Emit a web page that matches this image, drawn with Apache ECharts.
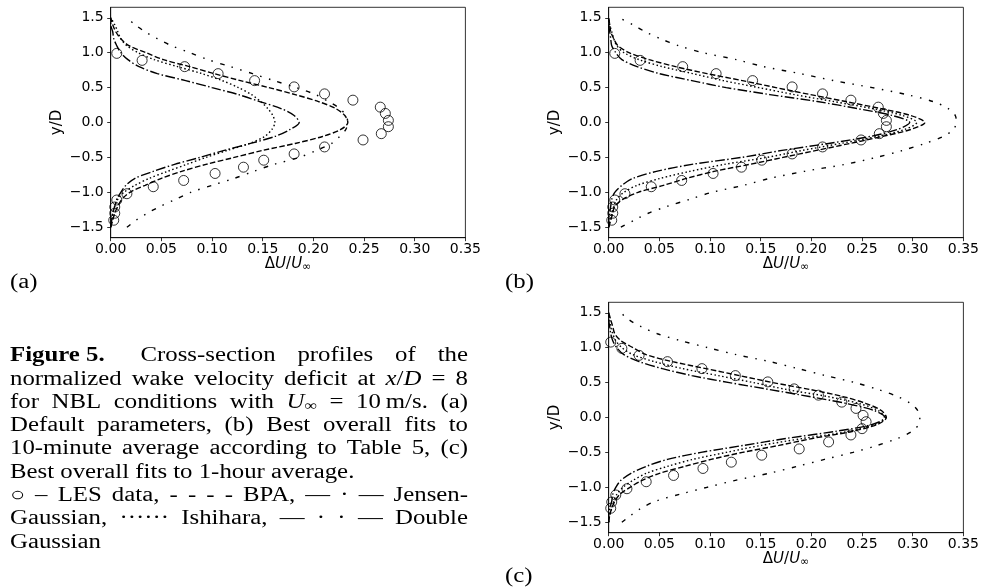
<!DOCTYPE html>
<html><head><meta charset="utf-8">
<script src="https://cdn.jsdelivr.net/npm/echarts@6/dist/echarts.min.js"></script>
<style>html,body{margin:0;padding:0;background:#fff}#c{width:987px;height:587px}</style>
</head><body><div id="c"></div>
<script>
// ---------------- data ----------------
// y/D positions at which the model curves were read (-1.5 ... 1.5, step 0.1)
const yGrid = [-1.5,-1.4,-1.3,-1.2,-1.1,-1.0,-0.9,-0.8,-0.7,-0.6,-0.5,-0.4,-0.3,-0.2,-0.1,0,
               0.1,0.2,0.3,0.4,0.5,0.6,0.7,0.8,0.9,1.0,1.1,1.2,1.3,1.4,1.5];
// (a) default parameters
const bpaA = [0,0.002,0.004,0.007,0.011,0.019,0.034,0.050,0.070,0.094,0.122,0.150,0.182,0.209,0.227,0.234,
              0.231,0.222,0.205,0.182,0.156,0.128,0.102,0.078,0.052,0.035,0.018,0.010,0.005,0.002,0];
const jgA  = [0,0.001,0.002,0.004,0.006,0.010,0.015,0.024,0.042,0.063,0.088,0.112,0.138,0.162,0.177,0.186,
              0.181,0.168,0.147,0.126,0.100,0.074,0.046,0.028,0.017,0.010,0.006,0.003,0.002,0,0];
const ishA = [0,0.001,0.002,0.004,0.007,0.013,0.024,0.038,0.056,0.075,0.094,0.115,0.137,0.152,0.159,0.162,
              0.160,0.155,0.148,0.139,0.126,0.110,0.090,0.066,0.043,0.027,0.016,0.010,0.007,0.004,0];
const dgA  = [0.016,0.025,0.036,0.049,0.064,0.079,0.100,0.122,0.141,0.161,0.186,0.203,0.218,0.226,0.232,0.234,
              0.232,0.226,0.215,0.202,0.183,0.161,0.140,0.118,0.096,0.078,0.060,0.046,0.034,0.024,0.016];
// (b) best fits to 10-minute average
const bpaB = [0,0.002,0.004,0.006,0.014,0.029,0.054,0.077,0.104,0.139,0.172,0.205,0.238,0.270,0.298,0.312,
              0.298,0.268,0.234,0.199,0.165,0.132,0.097,0.066,0.040,0.020,0.009,0.005,0.002,0.001,0];
const jgB  = [0,0,0.001,0.002,0.003,0.006,0.013,0.024,0.047,0.082,0.131,0.171,0.217,0.258,0.285,0.297,
              0.280,0.245,0.206,0.159,0.116,0.082,0.050,0.028,0.013,0.007,0.003,0.002,0.001,0,0];
const ishB = [0,0.001,0.003,0.005,0.008,0.015,0.028,0.051,0.080,0.114,0.156,0.191,0.229,0.265,0.292,0.304,
              0.290,0.260,0.222,0.183,0.148,0.113,0.083,0.053,0.030,0.015,0.008,0.005,0.003,0.001,0];
const dgB  = [0.012,0.025,0.039,0.058,0.080,0.102,0.133,0.159,0.193,0.233,0.264,0.290,0.312,0.330,0.340,0.343,
              0.342,0.335,0.320,0.294,0.260,0.222,0.189,0.153,0.126,0.093,0.069,0.051,0.036,0.024,0.010];
// (c) best fits to 1-hour average
const bpaC = [0,0.001,0.003,0.006,0.011,0.021,0.033,0.050,0.075,0.101,0.132,0.168,0.201,0.240,0.265,0.274,
              0.269,0.254,0.231,0.199,0.162,0.129,0.096,0.063,0.037,0.024,0.012,0.006,0.004,0.002,0];
const jgC  = [0,0,0.001,0.003,0.004,0.007,0.012,0.022,0.037,0.058,0.091,0.133,0.175,0.223,0.260,0.273,
              0.262,0.235,0.198,0.159,0.119,0.082,0.053,0.030,0.015,0.008,0.004,0.002,0.001,0,0];
const ishC = [0,0.001,0.003,0.005,0.008,0.014,0.024,0.037,0.058,0.083,0.116,0.150,0.192,0.236,0.263,0.272,
              0.266,0.247,0.216,0.176,0.143,0.108,0.073,0.045,0.024,0.013,0.007,0.004,0.002,0.001,0];
const dgC  = [0.013,0.022,0.032,0.046,0.070,0.097,0.125,0.158,0.186,0.213,0.241,0.265,0.285,0.299,0.306,0.307,
              0.305,0.298,0.285,0.266,0.243,0.214,0.187,0.159,0.126,0.098,0.071,0.048,0.032,0.020,0.012];
// LES data, 10-minute average (panels a, b)
const les10Y = [0.99,0.89,0.80,0.70,0.60,0.51,0.41,0.32,0.22,0.13,0.03,-0.06,-0.16,-0.25,-0.35,-0.45,-0.54,
                -0.64,-0.73,-0.83,-0.92,-1.02,-1.11,-1.21,-1.30,-1.40];
const les10X = [0.006,0.031,0.073,0.106,0.142,0.181,0.211,0.239,0.266,0.271,0.274,0.274,0.267,0.249,0.211,0.181,
                0.151,0.131,0.103,0.072,0.042,0.016,0.006,0.004,0.004,0.003];
// LES data, 1-hour average (panel c)
const les60Y = [1.08,0.99,0.89,0.80,0.70,0.60,0.51,0.41,0.32,0.22,0.13,0.03,-0.06,-0.16,-0.25,-0.35,-0.45,
                -0.54,-0.64,-0.73,-0.83,-0.92,-1.02,-1.11,-1.21,-1.30];
const les60X = [0.002,0.013,0.030,0.058,0.092,0.125,0.157,0.183,0.207,0.230,0.244,0.251,0.254,0.250,0.239,0.217,
                0.188,0.151,0.121,0.093,0.064,0.037,0.018,0.007,0.003,0.002];
// axis ticks
const xTicks = [0,0.05,0.10,0.15,0.20,0.25,0.30,0.35];
const yTicks = [-1.5,-1.0,-0.5,0,0.5,1.0,1.5];
const panelLabels = ['(a)','(b)','(c)'];

// ---------------- layout ----------------
const PW = 354.7, PH = 230.4;
const grids = [{left:110.7, top:7.3}, {left:608.7, top:7.3}, {left:608.7, top:302.3}];
const SANS = '"DejaVu Sans"';
const SERIF = '"Liberation Serif"';
const TICKFS = 14, TITLEFS = 15;
const SX = 1.24;  // horizontal scale to mimic the wide Computer Modern face

const DASH = {bpa:[5.5,2.4], jg:[9.6,2.4,1.5,2.4], ish:[1.5,2.5], dg:[4.5,7.5,1.5,7.5,1.5,7.5]};

const chart = echarts.init(document.getElementById('c'), null, {renderer:'canvas'});
const fmtMinus = s => s.replace('-', '\u2212');

function lineSeries(arr, gi, dash){
  return {type:'line', xAxisIndex:gi, yAxisIndex:gi, data:yGrid.map((y,i)=>[arr[i],y]),
    symbol:'none', showSymbol:false, smooth:0.3, silent:true, animation:false, z:3,
    lineStyle:{color:'#000', width:1.4, type:dash}};
}
function lesSeries(xs, ys, gi){
  return {type:'scatter', xAxisIndex:gi, yAxisIndex:gi, data:ys.map((y,i)=>[xs[i],y]),
    symbol:'circle', symbolSize:10, silent:true, animation:false, z:4,
    itemStyle:{color:'rgba(255,255,255,0)', borderColor:'#000', borderWidth:1}};
}

const curves = [[bpaA,jgA,ishA,dgA],[bpaB,jgB,ishB,dgB],[bpaC,jgC,ishC,dgC]];
const series = [];
curves.forEach((c,gi)=>{
  series.push(lineSeries(c[0],gi,DASH.bpa));
  series.push(lineSeries(c[1],gi,DASH.jg));
  series.push(lineSeries(c[2],gi,DASH.ish));
  series.push(lineSeries(c[3],gi,DASH.dg));
  series.push(gi<2 ? lesSeries(les10X,les10Y,gi) : lesSeries(les60X,les60Y,gi));
});

const xAxes = grids.map((g,i)=>({type:'value', gridIndex:i, min:0, max:0.35, interval:0.05,
  axisLine:{show:true, onZero:false, lineStyle:{color:'#000', width:0.8}},
  axisTick:{show:true, inside:false, length:3.5, lineStyle:{color:'#000', width:0.8}},
  axisLabel:{show:true, margin:5, color:'#000', fontFamily:SANS, fontSize:TICKFS, formatter:v=>v.toFixed(2)},
  splitLine:{show:false}}));
const yAxes = grids.map((g,i)=>({type:'value', gridIndex:i, min:-1.65, max:1.65,
  axisLine:{show:true, onZero:false, lineStyle:{color:'#000', width:0.8}},
  axisTick:{show:true, inside:false, length:3.5, customValues:yTicks, lineStyle:{color:'#000', width:0.8}},
  axisLabel:{show:true, margin:7, color:'#000', fontFamily:SANS, fontSize:TICKFS, customValues:yTicks,
    formatter:v=>fmtMinus(v.toFixed(1))},
  splitLine:{show:false}}));

// ---------------- text (graphic) ----------------
const mctx = document.createElement('canvas').getContext('2d');
function measure(text, font){ mctx.font = font; return mctx.measureText(text).width; }
const graphics = [];
function addText(text, x, y, font, sx){
  graphics.push({type:'text', x:x, y:y, scaleX:sx||1, silent:true,
    style:{text:text, font:font, fill:'#000', align:'left', verticalAlign:'middle'}});
}

// axis titles
grids.forEach((g,i)=>{
  const cx = g.left + PW/2, cy = g.top + PH + 26;
  const F = TITLEFS;
  const segs = [['\u0394', `${F}px ${SANS}`, 0], ['U', `italic ${F}px ${SANS}`, 0], ['/', `${F}px ${SANS}`, 0],
                ['U', `italic ${F}px ${SANS}`, 0], ['\u221e', `${Math.round(F*0.7)}px ${SANS}`, 3]];
  const ws = segs.map(s=>measure(s[0], s[1]));
  let x = cx - ws.reduce((a,b)=>a+b,0)/2;
  segs.forEach((s,k)=>{ addText(s[0], x, cy + s[2], s[1]); x += ws[k]; });
  graphics.push({type:'text', x:g.left - 54, y:g.top + PH/2, rotation:Math.PI/2, silent:true,
    style:{text:'y/D', font:`${F}px ${SANS}`, fill:'#000', align:'center', verticalAlign:'middle'}});
});
// panel labels
const CAPFS = 20;
[[10,283],[505,283],[505,577]].forEach((p,i)=> addText(panelLabels[i], p[0], p[1], `${CAPFS}px ${SERIF}`, SX));

// caption (justified lines)
const CAPX0 = 10, CAPX1 = 468, CAPY0 = 356, CAPDY = 23.3;
const fontOf = st => (st==='i'?'italic ':'') + (st==='b'?'bold ':'') + (st==='sub'?14:CAPFS) + 'px ' + SERIF;
const W = (t, st) => [[t, st||'']];
const capLines = [
  {just:true, firstGap:14, words:[W('Figure 5.','b'), W('Cross-section'), W('profiles'), W('of'), W('the')]},
  {just:true, words:[W('normalized'),W('wake'),W('velocity'),W('deficit'),W('at'),
      [['x','i'],['/',''],['D','i']], W('='), W('8')]},
  {just:true, words:[W('for'),W('NBL'),W('conditions'),W('with'),[['U','i'],['\u221e','sub']],W('='),
      W('10\u2009m/s.'),W('(a)')]},
  {just:true, words:[W('Default'),W('parameters,'),W('(b)'),W('Best'),W('overall'),W('fits'),W('to')]},
  {just:true, words:[W('10-minute'),W('average'),W('according'),W('to'),W('Table'),W('5,'),W('(c)')]},
  {just:false, words:[W('Best'),W('overall'),W('fits'),W('to'),W('1-hour'),W('average.')]},
  {just:true, words:[W('\u25cb'),W('\u2013'),W('LES'),W('data,'),W('-'),W('-'),W('-'),W('-'),W('BPA,'),
      W('\u2014'),W('\u00b7'),W('\u2014'),W('Jensen-')]},
  {just:true, words:[W('Gaussian,'),W('\u00b7\u00b7\u00b7\u00b7\u00b7\u00b7'),W('Ishihara,'),W('\u2014'),
      W('\u00b7'),W('\u00b7'),W('\u2014'),W('Double')]},
  {just:false, words:[W('Gaussian')]}
];
capLines.forEach((L,li)=>{
  const ly = CAPY0 + li*CAPDY;
  const ww = L.words.map(w=>w.reduce((a,s)=>a+measure(s[0], fontOf(s[1]))*SX,0));
  const tot = ww.reduce((a,b)=>a+b,0);
  const n = L.words.length;
  const first = L.firstGap||0;
  const gap = L.just && n>1 ? (CAPX1 - CAPX0 - tot - first)/(n-1) : measure(' ', fontOf(''))*SX;
  let x = CAPX0;
  L.words.forEach((w,k)=>{
    w.forEach(s=>{
      const f = fontOf(s[1]);
      addText(s[0], x, ly + (s[1]==='sub'?4:0), f, SX);
      x += measure(s[0], f)*SX;
    });
    x += gap + (k===0?first:0);
  });
});

chart.setOption({
  animation:false,
  backgroundColor:'#fff',
  grid: grids.map(g=>({left:g.left, top:g.top, width:PW, height:PH, show:true, borderColor:'#000', borderWidth:0.8,
    backgroundColor:'transparent', containLabel:false})),
  xAxis: xAxes, yAxis: yAxes, series: series, graphic: graphics
});
</script></body></html>
